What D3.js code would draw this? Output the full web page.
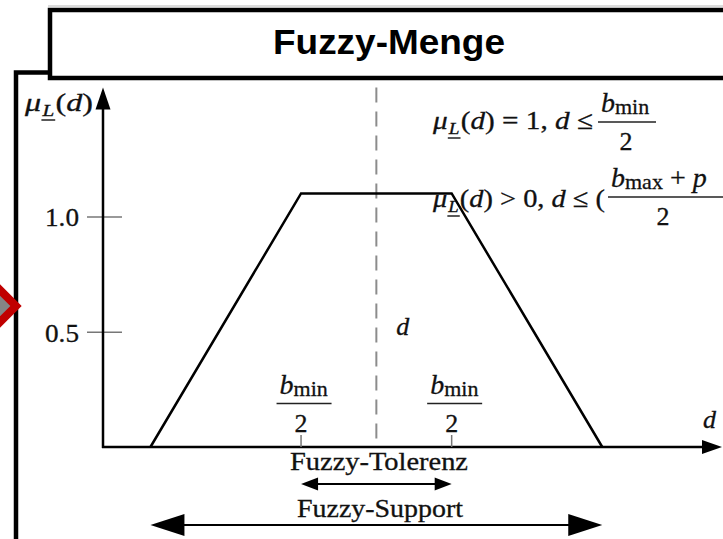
<!DOCTYPE html>
<html>
<head>
<meta charset="utf-8">
<script src="https://cdn.jsdelivr.net/npm/d3@7"></script>
<style>
  html, body { margin: 0; padding: 0; background: #fff; }
  svg { display: block; }
  .serif { font-family: "Liberation Serif", "Times New Roman", serif; fill: #111; stroke: #111; stroke-width: 0.3px; }
</style>
</head>
<body>
<main></main>
<script>
// membership function (trapezoid) of the fuzzy set
const fuzzyD = [-3, -1, 1, 3];
const fuzzyMu = [0, 1.1, 1.1, 0];

// axis ticks
const muTicks = [0.5, 1.0];
const muTickLabels = ["0.5", "1.0"];
const bminMarks = [-1, 1];

// ranges shown with double arrows
const toleranceRange = [-1, 1];
const supportRange = [-3, 3];
const arrowLabels = ["Fuzzy-Tolerenz", "Fuzzy-Support"];

// extent of the drawn axes
const dAxisRange = [-3.63, 4.59];
const muAxisMax = 1.56;

const showGraph = () => {
    const WIDTH = 723;
    const HEIGHT = 539;

    let svg = d3.select("main").append("svg")
        .attr("width", WIDTH)
        .attr("height", HEIGHT);

    // frame and title box
    svg.append("rect")
        .attr("x", 16).attr("y", 72.5)
        .attr("width", 900).attr("height", 600)
        .attr("fill", "#fff").attr("stroke", "#000").attr("stroke-width", 4.5);

    svg.append("line")
        .attr("x1", 48).attr("x2", WIDTH).attr("y1", 6).attr("y2", 6)
        .attr("stroke", "#d0d0d0").attr("stroke-width", 1.5);

    svg.append("rect")
        .attr("x", 50).attr("y", 10)
        .attr("width", 900).attr("height", 68)
        .attr("fill", "#fff").attr("stroke", "#000").attr("stroke-width", 4.5);

    svg.append("text")
        .attr("x", 389).attr("y", 54)
        .attr("text-anchor", "middle")
        .attr("font-family", "'Liberation Sans', Arial, sans-serif")
        .attr("font-weight", "bold")
        .attr("font-size", 35)
        .attr("textLength", 232)
        .attr("lengthAdjust", "spacingAndGlyphs")
        .text("Fuzzy-Menge");

    // red marker on the left edge
    svg.append("path")
        .attr("d", d3.symbol(d3.symbolSquare, 2 * 16 * 16)())
        .attr("transform", "translate(0,306) rotate(45)")
        .attr("fill", "#858585")
        .attr("stroke", "#c00000")
        .attr("stroke-width", 8);

    let xScale = d3.scaleLinear()
                    .domain(dAxisRange)
                    .range([103, 722]);

    let yScale = d3.scaleLinear()
                    .domain([0, 1])
                    .range([447, 216.5]);

    const x0 = xScale(dAxisRange[0]);
    const y0 = yScale(0);

    const arrowHead = (x, y, dir, len, half) => {
        let pts;
        if (dir === "up") pts = [[x, y], [x - half, y + len], [x + half, y + len]];
        else if (dir === "right") pts = [[x, y], [x - len, y - half], [x - len, y + half]];
        else pts = [[x, y], [x + len, y - half], [x + len, y + half]];
        svg.append("polygon")
            .attr("points", pts.map(p => p.join(",")).join(" "))
            .attr("fill", "#000");
    };

    // dashed centre line
    svg.append("line")
        .attr("x1", xScale(0)).attr("x2", xScale(0))
        .attr("y1", yScale(muAxisMax)).attr("y2", y0)
        .attr("stroke", "#8c8c8c")
        .attr("stroke-width", 2)
        .attr("stroke-dasharray", "15,9");

    // y axis
    let yAxis = d3.axisLeft(yScale)
                    .tickValues(muTicks)
                    .tickFormat((d, i) => muTickLabels[i])
                    .tickSize(16)
                    .tickPadding(8);

    svg.append("g")
        .attr("transform", `translate(${x0}, 0)`)
        .call(yAxis)
        .call(g => g.select(".domain").remove())
        .call(g => g.selectAll(".tick line")
            .attr("x1", 19)
            .attr("stroke", "#777")
            .attr("stroke-width", 1.5))
        .call(g => g.selectAll(".tick text")
            .attr("class", "serif")
            .attr("font-size", 26)
            .attr("dy", "0.36em")
            .attr("textLength", 34)
            .attr("lengthAdjust", "spacingAndGlyphs"));

    svg.append("line")
        .attr("x1", x0).attr("x2", x0)
        .attr("y1", y0 + 1).attr("y2", yScale(muAxisMax) + 18)
        .attr("stroke", "#000").attr("stroke-width", 2.5);
    arrowHead(x0, yScale(muAxisMax), "up", 22, 7.5);

    // x axis
    svg.append("line")
        .attr("x1", x0 - 1).attr("x2", xScale(dAxisRange[1]) - 16)
        .attr("y1", y0).attr("y2", y0)
        .attr("stroke", "#000").attr("stroke-width", 2.5);
    arrowHead(xScale(dAxisRange[1]), y0, "right", 20, 7);

    // b_min / 2 marks on the x axis
    svg.selectAll(".bmin-tick")
        .data(bminMarks)
        .enter().append("line")
        .attr("class", "bmin-tick")
        .attr("x1", d => xScale(d)).attr("x2", d => xScale(d))
        .attr("y1", y0 - 12).attr("y2", y0)
        .attr("stroke", "#777").attr("stroke-width", 1.5);

    // fraction "b_sub / 2" with its bar starting at x
    const fraction = (g, x, barY, barLen, sub, extra) => {
        g.append("line")
            .attr("x1", x).attr("x2", x + barLen)
            .attr("y1", barY).attr("y2", barY)
            .attr("stroke", "#222").attr("stroke-width", 1.5);
        const t = g.append("text").attr("x", x + 3).attr("y", barY - 10);
        t.append("tspan").attr("font-style", "italic").attr("font-size", 28).text("b");
        t.append("tspan").attr("font-size", 22).attr("dy", 2).text(sub);
        if (extra) {
            t.append("tspan").attr("dy", -2).attr("font-size", 28).text(" + ");
            t.append("tspan").attr("font-style", "italic").attr("font-size", 28).text(extra);
        }
        return g.append("text")
            .attr("y", barY + 28)
            .attr("text-anchor", "middle")
            .attr("font-size", 26)
            .text("2");
    };

    bminMarks.forEach(d => {
        const g = svg.append("g").attr("class", "serif");
        fraction(g, xScale(d) - 24.5, 403.5, 55, "min").attr("x", xScale(d));
    });

    // membership function
    let line = d3.line()
                    .x(d => xScale(d[0]))
                    .y(d => yScale(d[1]));

    svg.append("path")
        .datum(d3.zip(fuzzyD, fuzzyMu))
        .attr("d", line)
        .attr("fill", "none")
        .attr("stroke", "#000")
        .attr("stroke-width", 2.5);

    // tolerance and support arrows
    const drawRange = (range, y, len, half, width) => {
        svg.append("line")
            .attr("x1", xScale(range[0]) + len - 2).attr("x2", xScale(range[1]) - len + 2)
            .attr("y1", y).attr("y2", y)
            .attr("stroke", "#000").attr("stroke-width", width);
        arrowHead(xScale(range[0]), y, "left", len, half);
        arrowHead(xScale(range[1]), y, "right", len, half);
    };
    drawRange(toleranceRange, 484, 17, 6.5, 2);
    drawRange(supportRange, 525, 34, 11, 2);

    svg.append("text")
        .attr("class", "serif")
        .attr("x", 290).attr("y", 470)
        .attr("font-size", 25)
        .attr("textLength", 178)
        .attr("lengthAdjust", "spacingAndGlyphs")
        .text(arrowLabels[0]);

    svg.append("text")
        .attr("class", "serif")
        .attr("x", 297).attr("y", 517)
        .attr("font-size", 25)
        .attr("textLength", 166)
        .attr("lengthAdjust", "spacingAndGlyphs")
        .text(arrowLabels[1]);

    // mu_L(d) term followed by an optional relation
    const muText = (x, y, size, rest, len) => {
        const g = svg.append("g").attr("class", "serif");
        const t = g.append("text").attr("x", x).attr("y", y).attr("font-size", size);
        if (len) t.attr("textLength", len).attr("lengthAdjust", "spacingAndGlyphs");
        t.append("tspan").attr("font-style", "italic").text("μ");
        t.append("tspan").attr("dy", 5).attr("dx", 1).attr("font-style", "italic")
            .attr("font-size", size * 0.66).text("L");
        t.append("tspan").attr("dy", -5).attr("dx", 1).text("(");
        t.append("tspan").attr("font-style", "italic").text("d");
        t.append("tspan").text(")");
        rest.forEach(r => t.append("tspan")
            .attr("font-style", r.italic ? "italic" : null)
            .text(r.s));
        const n = t.node();
        const lx1 = n.getStartPositionOfChar(1).x;
        const lx2 = n.getEndPositionOfChar(1).x;
        g.append("line")
            .attr("x1", lx1 - 1).attr("x2", lx2 + 1)
            .attr("y1", y + 9).attr("y2", y + 9)
            .attr("stroke", "#222").attr("stroke-width", 1.5);
        return { g: g, end: x + (len || n.getComputedTextLength()) };
    };

    muText(25, 111, 26, [], 68);

    svg.append("text")
        .attr("class", "serif")
        .attr("x", xScale(dAxisRange[1]) - 19).attr("y", 428)
        .attr("font-size", 26).attr("font-style", "italic")
        .text("d");

    svg.append("text")
        .attr("class", "serif")
        .attr("x", xScale(0) + 20).attr("y", 335)
        .attr("font-size", 26).attr("font-style", "italic")
        .text("d");

    // formula 1
    const f1 = muText(433, 129, 26, [
        { s: " = 1, " }, { s: "d", italic: true }, { s: " ≤" }
    ], 160);
    fraction(f1.g, f1.end + 5, 122, 58, "min").attr("x", f1.end + 33);

    // formula 2
    const f2 = muText(433, 207, 26, [
        { s: " > 0, " }, { s: "d", italic: true }, { s: " ≤ (" }
    ], 172);
    fraction(f2.g, f2.end + 3, 197, 130, "max", "p").attr("x", f2.end + 58);
};

document.addEventListener('DOMContentLoaded', () => {
    showGraph();
});
</script>
</body>
</html>
